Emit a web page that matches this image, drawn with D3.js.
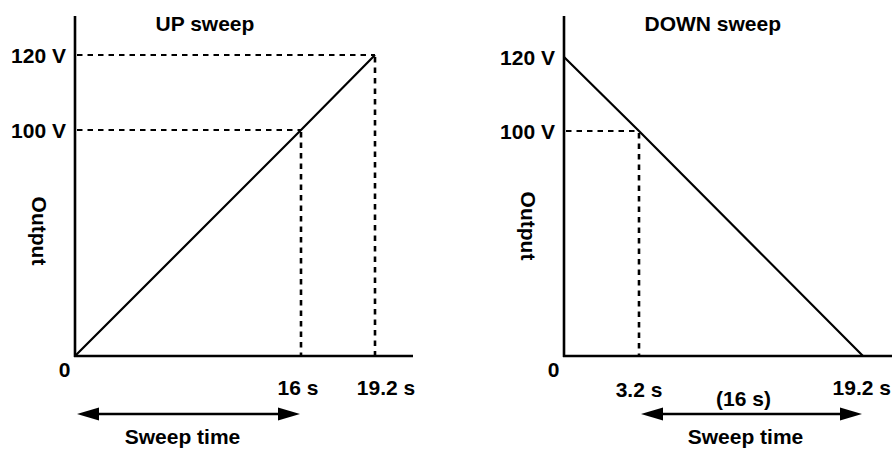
<!DOCTYPE html>
<html>
<head>
<meta charset="utf-8">
<script src="https://cdn.jsdelivr.net/npm/d3@7"></script>
<style>
  html, body { margin: 0; padding: 0; background: #fff; }
  svg text { font-family: "Liberation Sans", Arial, Helvetica, sans-serif; font-weight: bold; fill: #000; }
</style>
</head>
<body>
<svg id="chart" width="892" height="450"></svg>
<script>
// ---- data ----
const upTimes    = [0, 16, 19.2];      // s
const upVolts    = [0, 100, 120];      // V
const downTimes  = [0, 3.2, 19.2];     // s
const downVolts  = [120, 100, 0];      // V
const voltLevels = [0, 100, 120];
const voltLabels = ["0", "100 V", "120 V"];
const upTimeTicks     = [16, 19.2];
const upTimeLabels    = ["16 s", "19.2 s"];
const downTimeTicks   = [3.2, 19.2];
const downTimeLabels  = ["3.2 s", "19.2 s"];
const titles = ["UP sweep", "DOWN sweep"];
const sweepSpanUp   = [0, 16];
const sweepSpanDown = [3.2, 19.2];
const sweepLabel = "Sweep time";
const sweepDurationLabel = "(16 s)";
const yLabel = "Output";

// ---- layout ----
const svg = d3.select("#chart");
const FS = 21;
const W = 892;

// schematic (not-to-scale) piecewise scales
const panels = [
  {
    title: titles[0],
    times: upTimes, volts: upVolts,
    x: d3.scaleLinear().domain([0, 16, 19.2]).range([75, 301, 375]),
    y: d3.scaleLinear().domain([0, 100, 120]).range([356, 130, 55]),
    axisEnd: 413,
    hGuides: [[0, 19.2, 120], [0, 16, 100]],
    vGuides: [[19.2, 120], [16, 100]],
    xTicks: upTimeTicks, xLabels: upTimeLabels,
    xLabelNudge: [-3, 11], xLabelY: [395, 395],
    span: sweepSpanUp, showDuration: false, yTitleY: 231
  },
  {
    title: titles[1],
    times: downTimes, volts: downVolts,
    x: d3.scaleLinear().domain([0, 3.2, 19.2]).range([564, 639, 863]),
    y: d3.scaleLinear().domain([0, 100, 120]).range([356, 131, 57]),
    axisEnd: W,
    hGuides: [[0, 3.2, 100]],
    vGuides: [[3.2, 100]],
    xTicks: downTimeTicks, xLabels: downTimeLabels,
    xLabelNudge: [0, 0], xLabelY: [397, 395],
    span: sweepSpanDown, showDuration: true, yTitleY: 226
  }
];

panels.forEach(p => {
  const g = svg.append("g");
  const x = p.x, y = p.y;
  const x0 = x(0), y0 = y(0);

  // dashed guides
  p.hGuides.forEach(([t0, t1, v]) => {
    g.append("line")
      .attr("x1", x(t0) + 2).attr("x2", x(t1))
      .attr("y1", y(v)).attr("y2", y(v))
      .attr("stroke", "#000").attr("stroke-width", 2.2)
      .attr("stroke-dasharray", "5.5,5");
  });
  p.vGuides.forEach(([t, v]) => {
    g.append("line")
      .attr("x1", x(t)).attr("x2", x(t))
      .attr("y1", y(v) + 2).attr("y2", y0)
      .attr("stroke", "#000").attr("stroke-width", 2.6)
      .attr("stroke-dasharray", "5.5,5");
  });

  // axes
  g.append("line")
    .attr("x1", x0).attr("x2", x0)
    .attr("y1", 16).attr("y2", y0 + 1)
    .attr("stroke", "#000").attr("stroke-width", 2.6);
  g.append("line")
    .attr("x1", x0 - 1).attr("x2", p.axisEnd)
    .attr("y1", y0).attr("y2", y0)
    .attr("stroke", "#000").attr("stroke-width", 2.6);

  // sweep line
  const line = d3.line().x((d, i) => x(p.times[i])).y((d, i) => y(p.volts[i]));
  g.append("path")
    .datum(p.times)
    .attr("d", line)
    .attr("fill", "none")
    .attr("stroke", "#000").attr("stroke-width", 2.2);

  // title
  g.append("text")
    .attr("x", x0 + 80.5).attr("y", 31)
    .attr("font-size", FS)
    .text(p.title);

  // y labels
  voltLevels.forEach((v, i) => {
    if (v === 0) {
      g.append("text")
        .attr("x", x0 - 10.5).attr("y", 377)
        .attr("text-anchor", "middle")
        .attr("font-size", FS)
        .text(voltLabels[i]);
    } else {
      g.append("text")
        .attr("x", x0 - 9).attr("y", y(v) + 7.5)
        .attr("text-anchor", "end")
        .attr("font-size", FS)
        .text(voltLabels[i]);
    }
  });

  // x labels (kept inside the picture's right edge)
  p.xTicks.forEach((t, i) => {
    const t_ = g.append("text")
      .attr("y", p.xLabelY[i])
      .attr("font-size", FS)
      .text(p.xLabels[i]);
    const cx = x(t) + p.xLabelNudge[i];
    const w = t_.node().getComputedTextLength();
    if (cx + w / 2 > W - 1) {
      t_.attr("x", W - 1).attr("text-anchor", "end");
    } else {
      t_.attr("x", cx).attr("text-anchor", "middle");
    }
  });

  // y axis title
  g.append("text")
    .attr("transform", `translate(${x0 - 43},${p.yTitleY}) rotate(90)`)
    .attr("text-anchor", "middle")
    .attr("font-size", FS)
    .text(yLabel);

  // sweep time double arrow
  const ax1 = x(p.span[0]) + 2, ax2 = x(p.span[1]) - 1, ay = 414;
  const ah = 22, aw = 6.5;
  g.append("line")
    .attr("x1", ax1 + ah - 2).attr("x2", ax2 - ah + 2)
    .attr("y1", ay).attr("y2", ay)
    .attr("stroke", "#000").attr("stroke-width", 2.6);
  g.append("path")
    .attr("d", `M${ax1},${ay} L${ax1 + ah},${ay - aw} L${ax1 + ah},${ay + aw} Z`)
    .attr("fill", "#000");
  g.append("path")
    .attr("d", `M${ax2},${ay} L${ax2 - ah},${ay - aw} L${ax2 - ah},${ay + aw} Z`)
    .attr("fill", "#000");
  const amid = (ax1 + ax2) / 2;
  g.append("text")
    .attr("x", amid - 6).attr("y", 444)
    .attr("text-anchor", "middle")
    .attr("font-size", FS)
    .text(sweepLabel);
  if (p.showDuration) {
    g.append("text")
      .attr("x", amid - 8).attr("y", 406)
      .attr("text-anchor", "middle")
      .attr("font-size", FS)
      .text(sweepDurationLabel);
  }
});
</script>
</body>
</html>
